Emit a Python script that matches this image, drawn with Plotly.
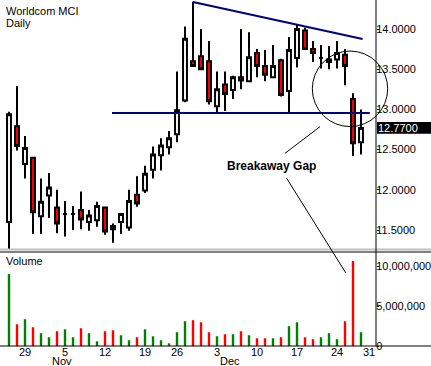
import plotly.graph_objects as go
from plotly.subplots import make_subplots

# ---------------- data ----------------
dates = ["2001-10-25", "2001-10-26", "2001-10-29", "2001-10-30", "2001-10-31",
         "2001-11-01", "2001-11-02", "2001-11-05", "2001-11-06", "2001-11-07",
         "2001-11-08", "2001-11-09", "2001-11-12", "2001-11-13", "2001-11-14",
         "2001-11-15", "2001-11-16", "2001-11-19", "2001-11-20", "2001-11-21",
         "2001-11-23", "2001-11-26", "2001-11-27", "2001-11-28", "2001-11-29",
         "2001-11-30", "2001-12-03", "2001-12-04", "2001-12-05", "2001-12-06",
         "2001-12-07", "2001-12-10", "2001-12-11", "2001-12-12", "2001-12-13",
         "2001-12-14", "2001-12-17", "2001-12-18", "2001-12-19", "2001-12-20",
         "2001-12-21", "2001-12-24", "2001-12-26", "2001-12-27", "2001-12-28"]
opens = [11.60, 12.79, 12.32, 12.40, 11.67, 11.93, 11.78, 11.70, 11.70, 11.75,
         11.60, 11.62, 11.78, 11.55, 11.60, 11.53, 11.94, 11.99, 12.25, 12.43,
         12.53, 12.69, 13.11, 13.60, 13.66, 13.60, 13.04, 13.31, 13.24, 13.40,
         13.35, 13.70, 13.54, 13.40, 13.61, 13.23, 13.64, 13.98, 13.75, 13.64,
         13.59, 13.62, 13.68, 13.13, 12.59]
highs = [12.97, 13.29, 12.67, 12.41, 12.14, 12.21, 12.00, 11.86, 11.80, 11.98,
         11.75, 11.85, 11.79, 11.58, 11.71, 12.00, 12.17, 12.30, 12.54, 12.64,
         12.73, 13.47, 14.03, 14.34, 14.00, 13.85, 13.47, 13.47, 13.42, 14.00,
         13.96, 13.75, 13.74, 13.80, 13.63, 13.90, 14.05, 14.02, 13.85, 13.80,
         13.79, 13.85, 13.75, 13.20, 13.00]
lows = [11.20, 12.49, 12.14, 11.45, 11.45, 11.65, 11.46, 11.42, 11.50, 11.51,
        11.49, 11.54, 11.44, 11.34, 11.45, 11.49, 11.79, 11.96, 12.14, 12.24,
        12.44, 12.59, 13.09, 13.54, 13.50, 13.06, 12.95, 12.98, 13.13, 13.25,
        13.35, 13.40, 13.35, 13.40, 13.16, 12.96, 13.52, 13.75, 13.59, 13.51,
        13.50, 13.51, 13.30, 12.42, 12.44]
closes = [12.94, 12.545, 12.52, 11.72, 11.85, 12.03, 11.58, 11.70, 11.70, 11.63,
          11.68, 11.80, 11.48, 11.51, 11.70, 11.86, 11.83, 12.20, 12.44, 12.55,
          12.64, 12.99, 13.88, 13.54, 13.50, 13.10, 13.25, 13.19, 13.40, 13.36,
          13.65, 13.54, 13.43, 13.54, 13.18, 13.74, 14.00, 13.75, 13.70, 13.64,
          13.62, 13.70, 13.54, 12.58, 12.77]
volumes = [9.03e6, 2.73e6, 3.36e6, 2.36e6, 1.60e6, 1.10e6, 1.85e6, 2.10e6, 1.10e6, 2.23e6,
           1.60e6, 0.59e6, 1.85e6, 1.98e6, 1.35e6, 0.72e6, 1.10e6, 2.10e6, 1.22e6, 0.72e6,
           0.34e6, 1.73e6, 3.11e6, 3.24e6, 2.98e6, 1.73e6, 1.22e6, 1.47e6, 1.47e6, 1.85e6,
           1.35e6, 0.97e6, 0.97e6, 0.97e6, 1.10e6, 2.48e6, 2.98e6, 1.10e6, 0.85e6, 1.10e6,
           1.60e6, 0.85e6, 3.11e6, 10.67e6, 1.73e6]

tick_dates = ["2001-10-29", "2001-11-05", "2001-11-12", "2001-11-19", "2001-11-26",
              "2001-12-03", "2001-12-10", "2001-12-17", "2001-12-24", "2001-12-31"]
tick_labels = ["29", "5", "12", "19", "26", "3", "10", "17", "24", "31"]
month_labels = ["Nov", "Dec"]
month_first_days = ["2001-11-01", "2001-12-03"]
future_days = ["2001-12-31", "2002-01-02"]

price_ticks = [11.5, 12.0, 12.5, 13.0, 13.5, 14.0]
volume_ticks = [0, 5e6, 10e6]

# annotation geometry (in data units: trading-day index / price / volume)
support_level = 12.955
support_span = [12.875, 45.1]
resistance_pts = [(23.0, 14.336), (44.2, 13.876)]
gap_circle = dict(cx=42.625, cy=13.256, rx=4.71, ry=0.47)
label_pos = (32.75, 12.296)
arrow1 = [(34.5, 12.454), (38.875, 12.785)]
arrow2_start = (34.71, 12.143)
arrow2_end = (42.09, 9.19e6)

# ---------------- derived ----------------
all_days = dates + future_days
x = list(range(len(dates)))
tickvals = [all_days.index(d) for d in tick_dates]
bar_colors = ["#008000" if c >= o else "#FF0000" for o, c in zip(opens, closes)]

W, H = 431, 366
L, R, T, B = 0, 55, 0, 20
plot_h = H - T - B
price_dom = [(plot_h - 249) / plot_h, 1.0]
vol_dom = [0.0, (plot_h - 252) / plot_h]
xr = [-1.125, 45.875]
pr = [11.2637, 14.3607]
vr = [0, 11.8e6]


def xp(i):
    return (i - xr[0]) / (xr[1] - xr[0])


def pp(p):
    return price_dom[0] + (p - pr[0]) / (pr[1] - pr[0]) * (price_dom[1] - price_dom[0])


def vp(v):
    return vol_dom[0] + (v - vr[0]) / (vr[1] - vr[0]) * (vol_dom[1] - vol_dom[0])


def ypix(px):
    return (plot_h - px) / plot_h


FONT = "Liberation Sans, Arial, sans-serif"

fig = make_subplots(rows=2, cols=1, shared_xaxes=False, vertical_spacing=0.0)

fig.add_trace(go.Candlestick(
    x=x, open=opens, high=highs, low=lows, close=closes,
    increasing=dict(fillcolor="#FFFFFF", line=dict(color="#000000", width=2)),
    decreasing=dict(fillcolor="#FF0000", line=dict(color="#000000", width=2)),
    whiskerwidth=0, hoverinfo="skip", showlegend=False,
), row=1, col=1)

fig.add_trace(go.Bar(
    x=x, y=volumes, marker=dict(color=bar_colors, line=dict(width=0)),
    width=0.3, hoverinfo="skip", showlegend=False,
), row=2, col=1)

fig.update_layout(
    width=W, height=H,
    margin=dict(l=L, r=R, t=T, b=B, autoexpand=False),
    paper_bgcolor="white", plot_bgcolor="white",
    font=dict(family=FONT, size=11, color="black"),
    showlegend=False,
    xaxis=dict(domain=[0, 1], range=xr, showticklabels=False, showgrid=False,
               zeroline=False, showline=False, ticks="", rangeslider=dict(visible=False),
               fixedrange=True, automargin=False),
    xaxis2=dict(domain=[0, 1], range=xr, tickvals=tickvals, ticktext=tick_labels,
                showgrid=False, zeroline=False, showline=False, ticks="",
                ticklabelstandoff=-2,
                tickfont=dict(family=FONT, size=11, color="black"), fixedrange=True,
                automargin=False),
    yaxis=dict(domain=price_dom, range=pr, side="right", tickvals=price_ticks,
               tickformat=".4f", showgrid=False, zeroline=False, showline=False,
               ticks="outside", ticklen=2, tickcolor="black", automargin=False,
               ticklabelstandoff=-5,
               tickfont=dict(family=FONT, size=11, color="black")),
    yaxis2=dict(domain=vol_dom, range=vr, side="right", tickvals=volume_ticks,
                tickformat=",d", showgrid=False, zeroline=False, showline=False,
                ticks="outside", ticklen=2, tickcolor="black", automargin=False,
                ticklabelstandoff=-5,
                tickfont=dict(family=FONT, size=11, color="black")),
)

shapes = []
# panel frame lines
shapes.append(dict(type="line", xref="paper", yref="paper", x0=0, x1=1.2,
                   y0=ypix(249.5), y1=ypix(249.5), line=dict(color="#C0C0C0", width=2)))
shapes.append(dict(type="line", xref="paper", yref="paper", x0=0, x1=1.2,
                   y0=vol_dom[1], y1=vol_dom[1], line=dict(color="black", width=1)))
shapes.append(dict(type="line", xref="paper", yref="paper", x0=0, x1=1.2,
                   y0=0, y1=0, line=dict(color="black", width=1)))
shapes.append(dict(type="line", xref="paper", yref="paper", x0=1, x1=1,
                   y0=0, y1=1, line=dict(color="black", width=1)))
# support and resistance lines
shapes.append(dict(type="line", xref="x", yref="y", x0=support_span[0], x1=support_span[1],
                   y0=support_level, y1=support_level, line=dict(color="#000080", width=2)))
shapes.append(dict(type="line", xref="x", yref="y",
                   x0=resistance_pts[0][0], y0=resistance_pts[0][1],
                   x1=resistance_pts[1][0], y1=resistance_pts[1][1],
                   line=dict(color="#000080", width=2)))
# gap circle
shapes.append(dict(type="circle", xref="paper", yref="paper",
                   x0=xp(gap_circle["cx"] - gap_circle["rx"]), x1=xp(gap_circle["cx"] + gap_circle["rx"]),
                   y0=pp(gap_circle["cy"] - gap_circle["ry"]), y1=pp(gap_circle["cy"] + gap_circle["ry"]),
                   line=dict(color="black", width=1)))
# pointer lines
shapes.append(dict(type="line", xref="paper", yref="paper",
                   x0=xp(arrow1[0][0]), y0=pp(arrow1[0][1]), x1=xp(arrow1[1][0]), y1=pp(arrow1[1][1]),
                   line=dict(color="black", width=1)))
shapes.append(dict(type="line", xref="paper", yref="paper",
                   x0=xp(arrow2_start[0]), y0=pp(arrow2_start[1]),
                   x1=xp(arrow2_end[0]), y1=vp(arrow2_end[1]),
                   line=dict(color="black", width=1)))
# last price box
last_close = closes[-1]
shapes.append(dict(type="rect", xref="paper", yref="paper", x0=1.0027, x1=1.2,
                   y0=pp(last_close) - 5.8 / plot_h, y1=pp(last_close) + 5.8 / plot_h,
                   fillcolor="black", line=dict(width=0)))
fig.update_layout(shapes=shapes)

ann = []
ann.append(dict(text="Worldcom MCI", xref="paper", yref="paper", x=4 / 376, y=ypix(11),
                xanchor="left", yanchor="middle", showarrow=False,
                font=dict(family=FONT, size=11, color="black")))
ann.append(dict(text="Daily", xref="paper", yref="paper", x=4 / 376, y=ypix(23.3),
                xanchor="left", yanchor="middle", showarrow=False,
                font=dict(family=FONT, size=11, color="black")))
ann.append(dict(text="Volume", xref="paper", yref="paper", x=4 / 376, y=ypix(261),
                xanchor="left", yanchor="middle", showarrow=False,
                font=dict(family=FONT, size=11, color="black")))
ann.append(dict(text="<b>Breakaway Gap</b>", xref="x", yref="y", x=label_pos[0], y=label_pos[1],
                xanchor="center", yanchor="middle", showarrow=False,
                font=dict(family=FONT, size=12, color="black")))
ann.append(dict(text=f"{last_close:.4f}", xref="paper", yref="paper", x=1.0027, y=pp(last_close),
                xanchor="left", yanchor="middle", showarrow=False, xshift=-1,
                font=dict(family=FONT, size=11, color="white")))
for name, d in zip(month_labels, month_first_days):
    ann.append(dict(text=name, xref="paper", yref="paper", x=xp(all_days.index(d)) + 1 / 376,
                    y=ypix(360.5), xanchor="left", yanchor="middle", showarrow=False,
                    font=dict(family=FONT, size=11, color="black")))
fig.update_layout(annotations=ann)

fig.write_html("out.html", config={"displayModeBar": False},
               post_script="document.body.style.margin='0px';document.body.style.padding='0px';")
